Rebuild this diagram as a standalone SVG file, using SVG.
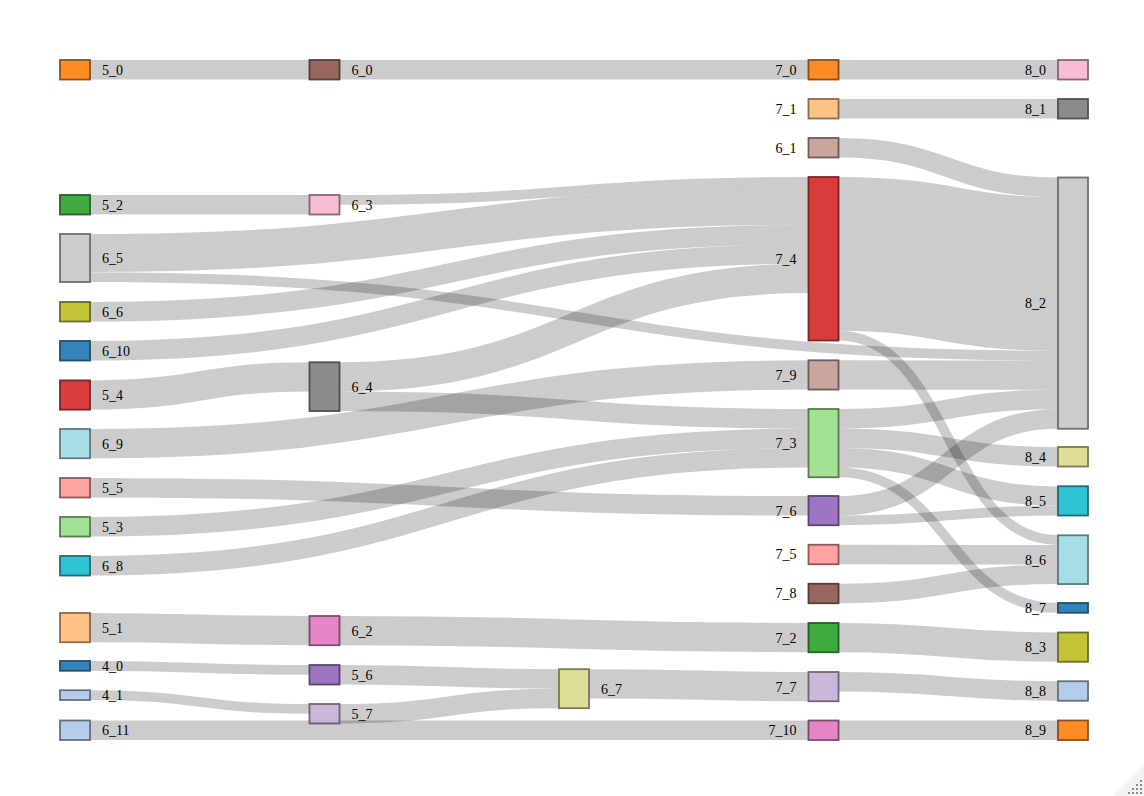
<svg xmlns="http://www.w3.org/2000/svg" width="1144" height="796" viewBox="0 0 1144 796">
<style>
.link{fill:none;stroke:#000;stroke-opacity:.2}
.node rect{opacity:.9;stroke-width:1.8}
.node text{font-family:"Liberation Serif","Times New Roman",serif;font-size:14px;fill:#000}
.l text{text-anchor:start}
.r text{text-anchor:end}
.orange{fill:#ff7f0e;stroke:#7d3e07}
.lorange{fill:#ffbb78;stroke:#7d5c3b}
.green{fill:#2ca02c;stroke:#164e16}
.lgreen{fill:#98df8a;stroke:#4a6d44}
.red{fill:#d62728;stroke:#691314}
.lred{fill:#ff9896;stroke:#7d4a49}
.purple{fill:#9467bd;stroke:#49325d}
.lpurple{fill:#c5b0d5;stroke:#615668}
.brown{fill:#8c564b;stroke:#452a25}
.lbrown{fill:#c49c94;stroke:#604c49}
.pink{fill:#e377c2;stroke:#6f3a5f}
.lpink{fill:#f7b6d2;stroke:#795967}
.gray{fill:#7f7f7f;stroke:#3e3e3e}
.lgray{fill:#c7c7c7;stroke:#616161}
.olive{fill:#bcbd22;stroke:#5c5d11}
.lolive{fill:#dbdb8d;stroke:#6b6b45}
.cyan{fill:#17becf;stroke:#0b5d65}
.lcyan{fill:#9edae5;stroke:#4d6b70}
.blue{fill:#1f77b4;stroke:#0f3a58}
.lblue{fill:#aec7e8;stroke:#556272}
</style>
<rect width="1144" height="796" fill="#fff"/>
<g id="links">
<path class="link" stroke-width="19.5" d="M90,69.75C199.75,69.75 199.75,69.75 309.5,69.75"/>
<path class="link" stroke-width="19.5" d="M339.5,69.75C574,69.75 574,69.75 808.5,69.75"/>
<path class="link" stroke-width="19.5" d="M838.5,69.75C948.25,69.75 948.25,69.75 1058,69.75"/>
<path class="link" stroke-width="19.5" d="M838.5,108.75C948.25,108.75 948.25,108.75 1058,108.75"/>
<path class="link" stroke-width="19.5" d="M838.5,147.75C948.25,147.75 948.25,187.25 1058,187.25"/>
<path class="link" stroke-width="19.5" d="M90,204.75C199.75,204.75 199.75,204.75 309.5,204.75"/>
<path class="link" stroke-width="9.75" d="M339.5,199.9C574,199.9 574,181.9 808.5,181.9"/>
<path class="link" stroke-width="38" d="M90,253C449.25,253 449.25,205.75 808.5,205.75"/>
<path class="link" stroke-width="19.5" d="M90,311.75C449.25,311.75 449.25,234.5 808.5,234.5"/>
<path class="link" stroke-width="19.5" d="M90,350.75C449.25,350.75 449.25,254 808.5,254"/>
<path class="link" stroke-width="29.25" d="M339.5,376.9C574,376.9 574,278.4 808.5,278.4"/>
<path class="link" stroke-width="19.5" d="M339.5,401.3C574,401.3 574,418.75 808.5,418.75"/>
<path class="link" stroke-width="29.25" d="M90,395C199.75,395 199.75,376.9 309.5,376.9"/>
<path class="link" stroke-width="29.25" d="M90,443.6C449.25,443.6 449.25,374.9 808.5,374.9"/>
<path class="link" stroke-width="19.5" d="M90,487.75C449.25,487.75 449.25,505.75 808.5,505.75"/>
<path class="link" stroke-width="19.5" d="M90,526.75C449.25,526.75 449.25,438.25 808.5,438.25"/>
<path class="link" stroke-width="19.5" d="M90,565.75C449.25,565.75 449.25,457.75 808.5,457.75"/>
<path class="link" stroke-width="29.25" d="M90,627.6C199.75,627.6 199.75,630.6 309.5,630.6"/>
<path class="link" stroke-width="29.25" d="M339.5,630.6C574,630.6 574,637.6 808.5,637.6"/>
<path class="link" stroke-width="29.25" d="M838.5,637.6C948.25,637.6 948.25,647.1 1058,647.1"/>
<path class="link" stroke-width="9.75" d="M90,665.9C199.75,665.9 199.75,669.9 309.5,669.9"/>
<path class="link" stroke-width="9.75" d="M90,695.1C199.75,695.1 199.75,708.9 309.5,708.9"/>
<path class="link" stroke-width="19.5" d="M339.5,674.75C449.25,674.75 449.25,678.95 559,678.95"/>
<path class="link" stroke-width="19.5" d="M339.5,713.75C449.25,713.75 449.25,698.45 559,698.45"/>
<path class="link" stroke-width="29.25" d="M589,683.8C698.75,683.8 698.75,686.6 808.5,686.6"/>
<path class="link" stroke-width="19.5" d="M838.5,681.75C948.25,681.75 948.25,691 1058,691"/>
<path class="link" stroke-width="19.5" d="M90,730.25C449.25,730.25 449.25,730.25 808.5,730.25"/>
<path class="link" stroke-width="19.5" d="M838.5,730.25C948.25,730.25 948.25,730.25 1058,730.25"/>
<path class="link" stroke-width="153.75" d="M838.5,253.9C948.25,253.9 948.25,273.9 1058,273.9"/>
<path class="link" stroke-width="9.75" d="M838.5,335.6C948.25,335.6 948.25,540.2 1058,540.2"/>
<path class="link" stroke-width="9.75" d="M90,277C574,277 574,355.6 1058,355.6"/>
<path class="link" stroke-width="29.25" d="M838.5,374.9C948.25,374.9 948.25,375.1 1058,375.1"/>
<path class="link" stroke-width="19.5" d="M838.5,418.75C948.25,418.75 948.25,399.5 1058,399.5"/>
<path class="link" stroke-width="19.5" d="M838.5,438.25C948.25,438.25 948.25,456.75 1058,456.75"/>
<path class="link" stroke-width="19.5" d="M838.5,457.75C948.25,457.75 948.25,496 1058,496"/>
<path class="link" stroke-width="9.75" d="M838.5,472.4C948.25,472.4 948.25,607.9 1058,607.9"/>
<path class="link" stroke-width="19.5" d="M838.5,505.75C948.25,505.75 948.25,419 1058,419"/>
<path class="link" stroke-width="9.75" d="M838.5,520.4C948.25,520.4 948.25,510.6 1058,510.6"/>
<path class="link" stroke-width="19.5" d="M838.5,554.5C948.25,554.5 948.25,554.8 1058,554.8"/>
<path class="link" stroke-width="19.5" d="M838.5,593.5C948.25,593.5 948.25,574.3 1058,574.3"/>
</g>
<g id="nodes">
<g id="n5_0" class="node l"><rect class="orange" x="60" y="60" width="30" height="19.5"/><text x="102" y="74.65">5_0</text></g>
<g id="n5_2" class="node l"><rect class="green" x="60" y="195" width="30" height="19.5"/><text x="102" y="209.65">5_2</text></g>
<g id="n6_5" class="node l"><rect class="lgray" x="60" y="234" width="30" height="48"/><text x="102" y="262.9">6_5</text></g>
<g id="n6_6" class="node l"><rect class="olive" x="60" y="302" width="30" height="19.5"/><text x="102" y="316.65">6_6</text></g>
<g id="n6_10" class="node l"><rect class="blue" x="60" y="341" width="30" height="19.5"/><text x="102" y="355.65">6_10</text></g>
<g id="n5_4" class="node l"><rect class="red" x="60" y="380.4" width="30" height="29.25"/><text x="102" y="399.9">5_4</text></g>
<g id="n6_9" class="node l"><rect class="lcyan" x="60" y="429" width="30" height="29.25"/><text x="102" y="448.5">6_9</text></g>
<g id="n5_5" class="node l"><rect class="lred" x="60" y="478" width="30" height="19.5"/><text x="102" y="492.65">5_5</text></g>
<g id="n5_3" class="node l"><rect class="lgreen" x="60" y="517" width="30" height="19.5"/><text x="102" y="531.65">5_3</text></g>
<g id="n6_8" class="node l"><rect class="cyan" x="60" y="556" width="30" height="19.5"/><text x="102" y="570.65">6_8</text></g>
<g id="n5_1" class="node l"><rect class="lorange" x="60" y="613" width="30" height="29.25"/><text x="102" y="632.5">5_1</text></g>
<g id="n4_0" class="node l"><rect class="blue" x="60" y="661" width="30" height="9.75"/><text x="102" y="670.8">4_0</text></g>
<g id="n4_1" class="node l"><rect class="lblue" x="60" y="690.25" width="30" height="9.75"/><text x="102" y="700">4_1</text></g>
<g id="n6_11" class="node l"><rect class="lblue" x="60" y="720.5" width="30" height="19.5"/><text x="102" y="735.15">6_11</text></g>
<g id="n6_0" class="node l"><rect class="brown" x="309.5" y="60" width="30" height="19.5"/><text x="351.5" y="74.65">6_0</text></g>
<g id="n6_3" class="node l"><rect class="lpink" x="309.5" y="195" width="30" height="19.5"/><text x="351.5" y="209.65">6_3</text></g>
<g id="n6_4" class="node l"><rect class="gray" x="309.5" y="362.3" width="30" height="48.75"/><text x="351.5" y="391.6">6_4</text></g>
<g id="n6_2" class="node l"><rect class="pink" x="309.5" y="616" width="30" height="29.25"/><text x="351.5" y="635.5">6_2</text></g>
<g id="n5_6" class="node l"><rect class="purple" x="309.5" y="665" width="30" height="19.5"/><text x="351.5" y="679.65">5_6</text></g>
<g id="n5_7" class="node l"><rect class="lpurple" x="309.5" y="704" width="30" height="19.5"/><text x="351.5" y="718.65">5_7</text></g>
<g id="n6_7" class="node l"><rect class="lolive" x="559" y="669.2" width="30" height="39"/><text x="601" y="693.6">6_7</text></g>
<g id="n7_0" class="node r"><rect class="orange" x="808.5" y="60" width="30" height="19.5"/><text x="796.5" y="74.65">7_0</text></g>
<g id="n7_1" class="node r"><rect class="lorange" x="808.5" y="99" width="30" height="19.5"/><text x="796.5" y="113.65">7_1</text></g>
<g id="n6_1" class="node r"><rect class="lbrown" x="808.5" y="138" width="30" height="19.5"/><text x="796.5" y="152.65">6_1</text></g>
<g id="n7_4" class="node r"><rect class="red" x="808.5" y="177" width="30" height="163.5"/><text x="796.5" y="263.65">7_4</text></g>
<g id="n7_9" class="node r"><rect class="lbrown" x="808.5" y="360.3" width="30" height="29.25"/><text x="796.5" y="379.8">7_9</text></g>
<g id="n7_3" class="node r"><rect class="lgreen" x="808.5" y="409" width="30" height="68.25"/><text x="796.5" y="448">7_3</text></g>
<g id="n7_6" class="node r"><rect class="purple" x="808.5" y="496" width="30" height="29.25"/><text x="796.5" y="515.5">7_6</text></g>
<g id="n7_5" class="node r"><rect class="lred" x="808.5" y="544.75" width="30" height="19.5"/><text x="796.5" y="559.4">7_5</text></g>
<g id="n7_8" class="node r"><rect class="brown" x="808.5" y="583.75" width="30" height="19.5"/><text x="796.5" y="598.4">7_8</text></g>
<g id="n7_2" class="node r"><rect class="green" x="808.5" y="623" width="30" height="29.25"/><text x="796.5" y="642.5">7_2</text></g>
<g id="n7_7" class="node r"><rect class="lpurple" x="808.5" y="672" width="30" height="29.25"/><text x="796.5" y="691.5">7_7</text></g>
<g id="n7_10" class="node r"><rect class="pink" x="808.5" y="720.5" width="30" height="19.5"/><text x="796.5" y="735.15">7_10</text></g>
<g id="n8_0" class="node r"><rect class="lpink" x="1058" y="60" width="30" height="19.5"/><text x="1046" y="74.65">8_0</text></g>
<g id="n8_1" class="node r"><rect class="gray" x="1058" y="99" width="30" height="19.5"/><text x="1046" y="113.65">8_1</text></g>
<g id="n8_2" class="node r"><rect class="lgray" x="1058" y="177.5" width="30" height="251.25"/><text x="1046" y="308">8_2</text></g>
<g id="n8_4" class="node r"><rect class="lolive" x="1058" y="447" width="30" height="19.5"/><text x="1046" y="461.65">8_4</text></g>
<g id="n8_5" class="node r"><rect class="cyan" x="1058" y="486.25" width="30" height="29.25"/><text x="1046" y="505.75">8_5</text></g>
<g id="n8_6" class="node r"><rect class="lcyan" x="1058" y="535.3" width="30" height="48.75"/><text x="1046" y="564.6">8_6</text></g>
<g id="n8_7" class="node r"><rect class="blue" x="1058" y="603" width="30" height="9.75"/><text x="1046" y="612.8">8_7</text></g>
<g id="n8_3" class="node r"><rect class="olive" x="1058" y="632.5" width="30" height="29.25"/><text x="1046" y="652">8_3</text></g>
<g id="n8_8" class="node r"><rect class="lblue" x="1058" y="681.25" width="30" height="19.5"/><text x="1046" y="695.9">8_8</text></g>
<g id="n8_9" class="node r"><rect class="orange" x="1058" y="720.5" width="30" height="19.5"/><text x="1046" y="735.15">8_9</text></g>
</g>
<g id="grip">
<polygon points="1144,765 1144,796 1113,796" fill="#f2f2f2"/>
<line x1="1144" y1="765" x2="1113" y2="796" stroke="#fafafa" stroke-width="1.5"/>
<g fill="#8a8a8a">
<rect x="1140" y="780" width="2" height="2"/>
<rect x="1136" y="784" width="2" height="2"/><rect x="1140" y="784" width="2" height="2"/>
<rect x="1132" y="788" width="2" height="2"/><rect x="1136" y="788" width="2" height="2"/><rect x="1140" y="788" width="2" height="2"/>
<rect x="1128" y="792" width="2" height="2"/><rect x="1132" y="792" width="2" height="2"/><rect x="1136" y="792" width="2" height="2"/><rect x="1140" y="792" width="2" height="2"/>
</g>
</g>
</svg>
